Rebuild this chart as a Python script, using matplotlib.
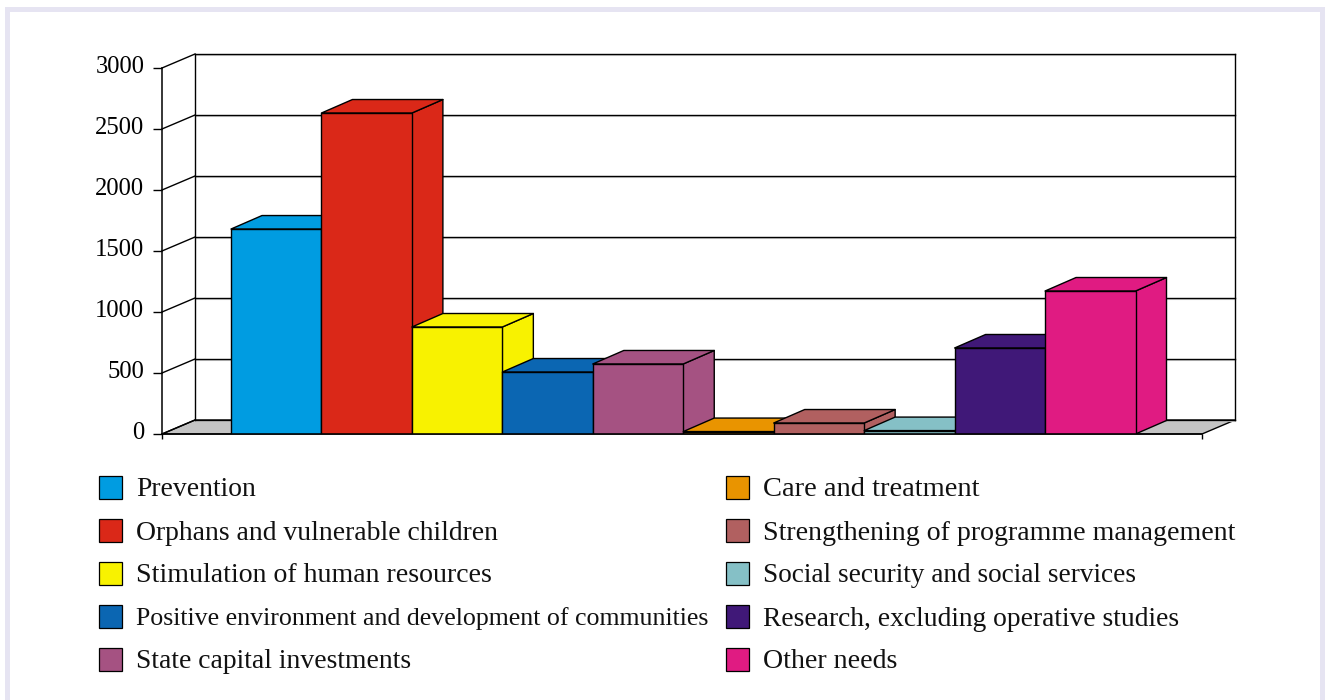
import matplotlib
matplotlib.use("Agg")
import matplotlib.pyplot as plt
from matplotlib.patches import Polygon, Rectangle
from matplotlib.transforms import ScaledTranslation

plt.rcParams["font.family"] = ["Liberation Serif", "DejaVu Serif"]

# values
categories = ["Prevention", "Orphans and vulnerable children", "Stimulation of human resources",
              "Positive environment and development of communities", "State capital investments",
              "Care and treatment", "Strengthening of programme management",
              "Social security and social services", "Research, excluding operative studies", "Other needs"]
values = [1680, 2631, 877, 508, 574, 20, 90, 28, 705, 1172]
colors = ["#009CE1", "#DA2818", "#F8F200", "#0B66B2", "#A55282",
          "#E99400", "#B16060", "#85C0C6", "#401878", "#E01B82"]
yticks = [0, 500, 1000, 1500, 2000, 2500, 3000]

W, H = 1325, 700
px_x = 90.45    # pixels per bar
px_y = 0.122    # pixels per value unit
wall_dx, wall_dy = 33 / px_x, 14 / px_y
bar_dx, bar_dy = 31 / px_x, 13.5 / px_y
left_x = -0.5 - 69 / px_x
right_x = -0.5 + 1004 / px_x
front_right = right_x - wall_dx

fig = plt.figure(figsize=(W / 100, H / 100), dpi=100, facecolor="white")

# page frame
frame = Rectangle((6.5 / W, -0.1), (W - 10) / W, 1.1 - 9.5 / H, transform=fig.transFigure,
                  facecolor="white", edgecolor="#E6E4F2", linewidth=3.6, zorder=-5)
fig.patches.append(frame)

ax = fig.add_axes([162 / W, (H - 434) / H, 1073 / W, 380 / H])
ax.set_xlim(left_x, right_x)
ax.set_ylim(0, 3000 + wall_dy)
ax.patch.set_visible(False)

line = dict(color="black", linewidth=1.0, clip_on=False, solid_capstyle="projecting")
shadow = dict(color="#CFCFCF", linewidth=0.8, clip_on=False)

# floor
ax.add_patch(Polygon([(left_x, 0), (front_right, 0), (right_x, wall_dy), (left_x + wall_dx, wall_dy)],
                     facecolor="#C4C4C4", edgecolor="black", linewidth=1.0, clip_on=False, zorder=1))

# back wall and grid
for v in yticks:
    ax.plot([left_x + wall_dx, right_x], [v + wall_dy - 9, v + wall_dy - 9], zorder=1, **shadow)
    ax.plot([left_x + wall_dx, right_x], [v + wall_dy, v + wall_dy], zorder=1.1, **line)
    ax.plot([left_x, left_x + wall_dx], [v, v + wall_dy], zorder=1.1, **line)
ax.plot([left_x + wall_dx] * 2, [wall_dy, 3000 + wall_dy], zorder=1.1, **line)
ax.plot([right_x] * 2, [wall_dy, 3000 + wall_dy], zorder=1.1, **line)

# bars, left to right so each one covers the side of the one before
for i, (val, col) in enumerate(zip(values, colors)):
    l, r = i - 0.5, i + 0.5
    z = 2 + i
    style = dict(facecolor=col, edgecolor="black", linewidth=1.0, joinstyle="round", zorder=z)
    ax.add_patch(Polygon([(r, 0), (r + bar_dx, bar_dy), (r + bar_dx, val + bar_dy), (r, val)], **style))
    ax.add_patch(Polygon([(l, val), (l + bar_dx, val + bar_dy), (r + bar_dx, val + bar_dy), (r, val)], **style))
    ax.add_patch(Polygon([(l, 0), (r, 0), (r, val), (l, val)], **style))

for side in ["top", "right"]:
    ax.spines[side].set_visible(False)
ax.spines["left"].set_bounds(0, 3000)
ax.spines["bottom"].set_bounds(left_x, front_right)
ax.spines["left"].set_linewidth(1.1)
ax.spines["bottom"].set_linewidth(1.1)
ax.spines["bottom"].set_zorder(20)

ax.set_xticks([left_x, front_right])
ax.set_xticklabels([])
ax.tick_params(axis="x", length=3.5, width=1.0)
ax.set_yticks(yticks)
ax.tick_params(axis="y", length=6.5, width=1.0, pad=6.2, labelsize=17.7)
nudge = ScaledTranslation(0, 2.8 / 72, fig.dpi_scale_trans)
for lab in ax.get_yticklabels():
    lab.set_transform(lab.get_transform() + nudge)

# legend, two columns of five; the original typesetting squeezes some lines
col_x = [99, 726]
row_y = [487, 530, 573, 616, 659]
legend_sizes = [19.9, 19.9, 20.07, 18.65, 19.9, 20.5, 20.07, 19.6, 19.8, 20.2]
for i, (name, col) in enumerate(zip(categories, colors)):
    x = col_x[i // 5]
    y = row_y[i % 5]
    fig.patches.append(Rectangle((x / W, (H - y - 11.5) / H), 23 / W, 23 / H, transform=fig.transFigure,
                                 facecolor=col, edgecolor="black", linewidth=0.9))
    fig.text((x + 37) / W, (H - y - 3) / H, name, fontsize=legend_sizes[i], va="center", ha="left",
             color="#111111")

fig.savefig("out.png", dpi=100)
